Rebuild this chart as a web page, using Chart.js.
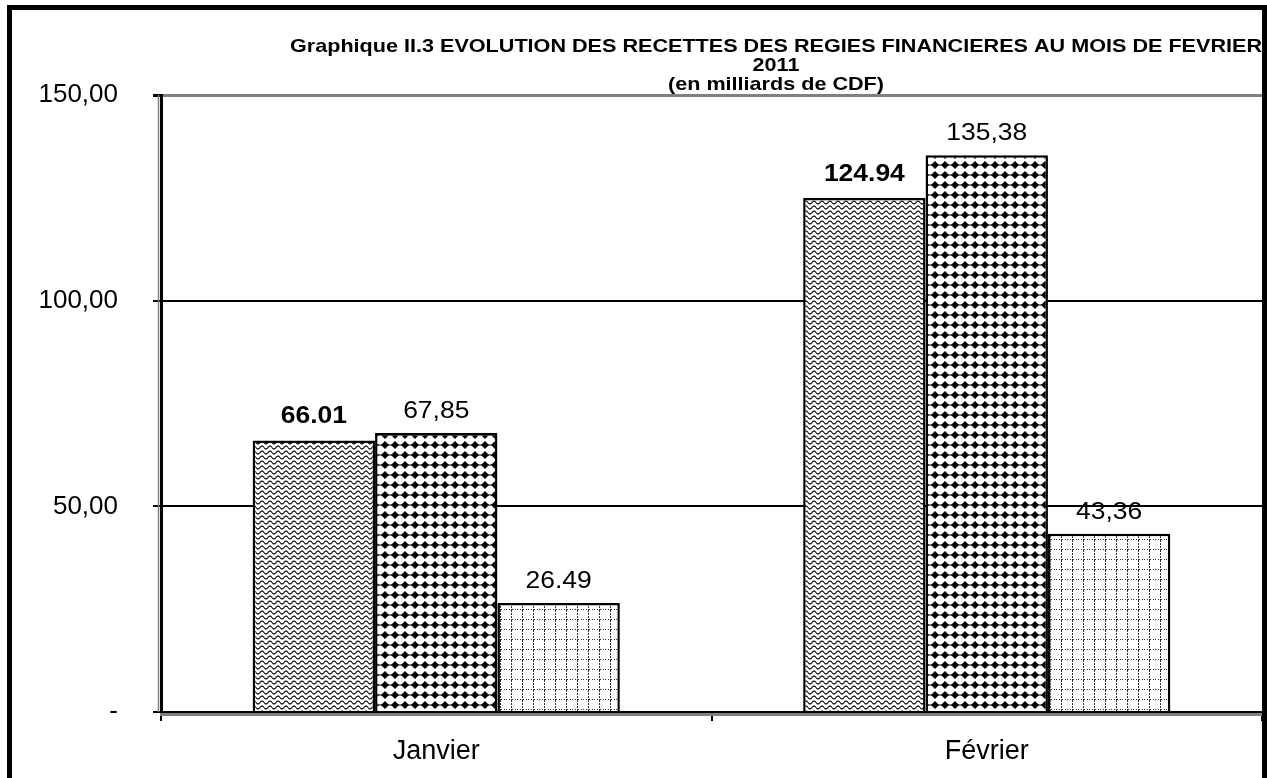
<!DOCTYPE html>
<html>
<head>
<meta charset="utf-8">
<script src="https://cdn.jsdelivr.net/npm/chart.js@4.4.1/dist/chart.umd.min.js"></script>
<style>
  html, body { margin: 0; padding: 0; background: #fff; }
  canvas { display: block; }
</style>
</head>
<body>
<canvas id="recettesChart" width="1267" height="778"></canvas>
<script>
// données
const mois = ["Janvier", "Février"];
const serieA = [66.01, 124.94];
const serieB = [67.85, 135.38];
const serieC = [26.49, 43.36];
const etiquettesA = ["66.01", "124.94"];
const etiquettesB = ["67,85", "135,38"];
const etiquettesC = ["26.49", "43,36"];
const titreLignes = [
    "Graphique II.3 EVOLUTION DES RECETTES DES REGIES FINANCIERES AU MOIS DE FEVRIER",
    "2011",
    "(en milliards de CDF)"
];

const FONT = "'Liberation Sans', Arial, sans-serif";

function makePattern(w, h, draw){
    const c = document.createElement("canvas");
    c.width = w;
    c.height = h;
    const g = c.getContext("2d");
    g.fillStyle = "#fff";
    g.fillRect(0, 0, w, h);
    draw(g);
    return document.createElement("canvas").getContext("2d").createPattern(c, "repeat");
}

// vagues
const motifA = makePattern(8, 5, g => {
    g.strokeStyle = "#111";
    g.lineWidth = 1.2;
    g.beginPath();
    for(let x = 0; x <= 8; x += 0.5){
        const y = 2.5 + 1.5 * Math.sin(2 * Math.PI * x / 8);
        if(x === 0) g.moveTo(x, y); else g.lineTo(x, y);
    }
    g.stroke();
});

// losanges noirs
const motifB = makePattern(10, 10, g => {
    g.fillStyle = "#000";
    g.fillRect(0, 4.5, 10, 1);
    g.beginPath();
    g.moveTo(5, 1);
    g.lineTo(9, 5);
    g.lineTo(5, 9);
    g.lineTo(1, 5);
    g.closePath();
    g.fill();
});

// quadrillage pointillé
const motifC = makePattern(11, 10, g => {
    g.fillStyle = "#333";
    for(let y = 0; y < 10; y += 3){
        g.fillRect(5, y, 1, 2);
    }
    for(let x = 0; x < 11; x += 3){
        g.fillRect(x, 9, 1, 1);
    }
});

function drawStretched(c, text, x, y, font, sx){
    c.save();
    c.font = font;
    c.translate(x, y);
    c.scale(sx, 1);
    c.textAlign = "center";
    c.textBaseline = "alphabetic";
    c.fillStyle = "#000";
    c.fillText(text, 0, 0);
    c.restore();
}

const titrePlugin = {
    id: "titrePlugin",
    beforeDraw(chart){
        const c = chart.ctx;
        const font = "bold 19px " + FONT;
        c.save();
        c.font = font;
        const sx = 972 / c.measureText(titreLignes[0]).width;
        c.restore();
        const baselines = [52, 71, 90];
        titreLignes.forEach((t, i) => {
            drawStretched(c, t, 776, baselines[i], font, sx);
        });
    }
};

const etiquettesPlugin = {
    id: "etiquettesPlugin",
    afterDatasetsDraw(chart){
        const c = chart.ctx;
        const textes = [etiquettesA, etiquettesB, etiquettesC];
        chart.data.datasets.forEach((ds, i) => {
            const meta = chart.getDatasetMeta(i);
            meta.data.forEach((bar, j) => {
                const font = (i === 0 ? "bold " : "") + "23px " + FONT;
                drawStretched(c, textes[i][j], bar.x, bar.y - (i === 0 ? 17 : 15), font, 1.15);
            });
        });
    }
};

const cadrePlugin = {
    id: "cadrePlugin",
    afterDraw(chart){
        const c = chart.ctx;
        const a = chart.chartArea;
        c.save();
        // ombres grises des axes
        c.strokeStyle = "#808080";
        c.lineWidth = 3;
        c.beginPath();
        c.moveTo(a.left - 1, a.bottom + 2.5);
        c.lineTo(a.right, a.bottom + 2.5);
        c.stroke();
        c.lineWidth = 1.5;
        c.beginPath();
        c.moveTo(a.left - 2.5, a.top);
        c.lineTo(a.left - 2.5, a.bottom);
        c.stroke();
        // cadre extérieur
        c.strokeStyle = "#000";
        c.lineWidth = 5;
        c.beginPath();
        c.moveTo(9.5, 778);
        c.lineTo(9.5, 7.5);
        c.lineTo(1264.5, 7.5);
        c.lineTo(1264.5, 778);
        c.stroke();
        c.restore();
    }
};

const ctx = document.getElementById("recettesChart").getContext("2d");

new Chart(ctx, {
    type: "bar",
    data: {
        labels: mois,
        datasets: [
            { label: "Série A", data: serieA, backgroundColor: motifA },
            { label: "Série B", data: serieB, backgroundColor: motifB },
            { label: "Série C", data: serieC, backgroundColor: motifC }
        ]
    },
    options: {
        responsive: false,
        devicePixelRatio: 1,
        animation: false,
        layout: {
            padding: { left: 12, right: 5, top: 95, bottom: 0 }
        },
        datasets: {
            bar: {
                borderColor: "#000",
                borderWidth: 2.5,
                categoryPercentage: 0.667,
                barPercentage: 1
            }
        },
        plugins: {
            legend: { display: false },
            title: { display: false },
            tooltip: { enabled: false }
        },
        scales: {
            x: {
                afterFit(scale){ scale.height = 66; },
                grid: {
                    display: true,
                    offset: true,
                    drawOnChartArea: false,
                    drawTicks: true,
                    tickLength: 9,
                    color: "#000",
                    lineWidth: 2
                },
                border: { display: false },
                ticks: {
                    color: "#000",
                    padding: 14,
                    font: { family: FONT, size: 27 }
                }
            },
            y: {
                min: 0,
                max: 150,
                afterFit(scale){ scale.width = 149; },
                grid: {
                    color: c => c.tick && c.tick.value === 150 ? "#808080" : "#000",
                    lineWidth: c => c.tick && c.tick.value === 150 ? 3 : 2,
                    tickColor: "#000",
                    tickLength: 8
                },
                border: { display: true, color: "#000", width: 3 },
                ticks: {
                    stepSize: 50,
                    color: "#000",
                    padding: 35,
                    font: { family: FONT, size: 26 },
                    callback: v => v === 0 ? "-" : v.toFixed(2).replace(".", ",")
                }
            }
        }
    },
    plugins: [titrePlugin, etiquettesPlugin, cadrePlugin]
});
</script>
</body>
</html>
